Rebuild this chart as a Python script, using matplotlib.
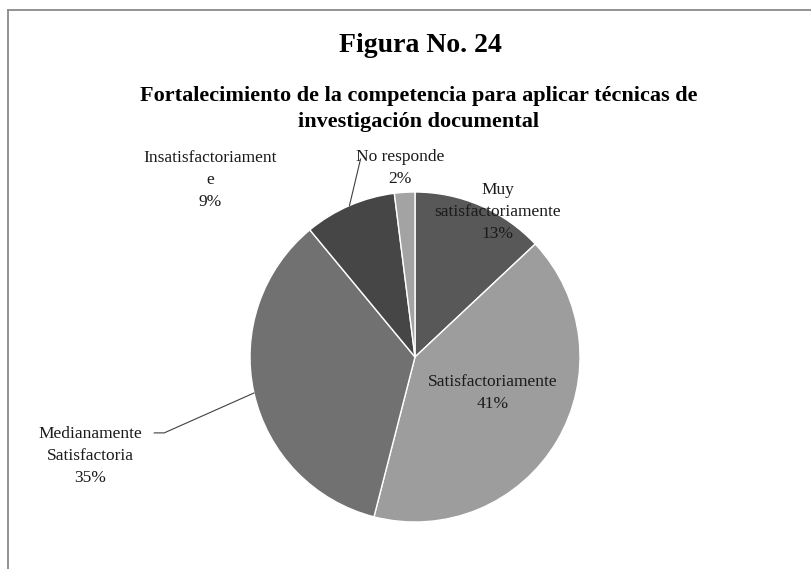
import matplotlib
matplotlib.use("Agg")
import matplotlib.pyplot as plt
from matplotlib.lines import Line2D
import numpy as np

# datos de la figura 24
categorias = ["Muy\nsatisfactoriamente", "Satisfactoriamente",
              "Medianamente\nSatisfactoria", "Insatisfactoriament\ne", "No responde"]
porcentajes = [13, 41, 35, 9, 2]
colores = ["#585858", "#9d9d9d", "#717171", "#464646", "#a3a3a3"]

titulo = "Figura No. 24"
subtitulo = "Fortalecimiento de la competencia para aplicar técnicas de\ninvestigación documental"

plt.rcParams['font.family'] = ['Liberation Serif', 'DejaVu Serif']

W, H = 812, 569
fig = plt.figure(figsize=(W/100, H/100), dpi=100)

# marco del grafico
fig.add_artist(Line2D([8/W, 1], [1 - 10/H, 1 - 10/H], color="#8a8a8a", lw=1.3))
fig.add_artist(Line2D([8/W, 8/W], [0, 1 - 10/H], color="#8a8a8a", lw=1.3))

fig.text(420/W, 1 - 45/H, titulo, ha='center', va='center', fontsize=20, fontweight='bold')
fig.text(419/W, 1 - 109/H, subtitulo, ha='center', va='center', fontsize=16,
         fontweight='bold', linespacing=1.4)

# pie centrado en (415, 357) px, radio 165 px
cx, cy, r = 415, 357, 165
ax = fig.add_axes([(cx - r)/W, (H - cy - r)/H, 2*r/W, 2*r/H])
wedges, _ = ax.pie(porcentajes, colors=colores, startangle=90, counterclock=False,
                   radius=1, wedgeprops=dict(edgecolor='white', linewidth=1))
ax.set_xlim(-1, 1)
ax.set_ylim(-1, 1)
ax.set_aspect('equal')
ax.axis('off')

# posiciones de las etiquetas (en unidades del radio)
pos_etiquetas = [(0.50, 0.88), (0.47, -0.22), (-1.97, -0.60), (-1.24, 1.07), (-0.09, 1.145)]

for i, w in enumerate(wedges):
    texto = f"{categorias[i]}\n{porcentajes[i]}%"
    ax.text(pos_etiquetas[i][0], pos_etiquetas[i][1], texto, ha='center', va='center',
            fontsize=12.5, color='#1a1a1a', linespacing=1.5, clip_on=False)

# lineas guia
def punto_borde(w):
    ang = np.deg2rad((w.theta1 + w.theta2) / 2)
    return np.cos(ang), np.sin(ang)

x3, y3 = punto_borde(wedges[3])
ax.plot([x3, -0.33], [y3, 1.20], color='#404040', lw=0.8, clip_on=False)

x2, y2 = punto_borde(wedges[2])
ax.plot([-1.58, -1.52, x2], [-0.46, -0.46, y2], color='#404040', lw=0.8, clip_on=False)

fig.savefig("out.png", dpi=100)
